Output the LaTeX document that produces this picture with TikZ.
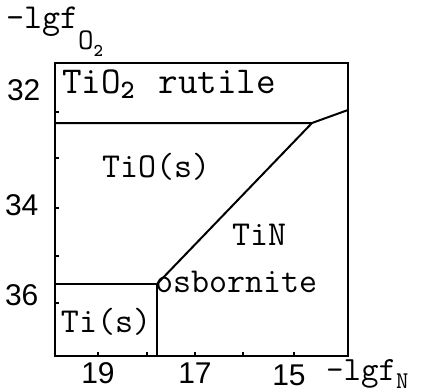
\documentclass[tikz,border=0pt]{standalone}
\usepackage{fontspec}
\setmainfont{Liberation Sans}
\usetikzlibrary{positioning}

\begin{document}
\begin{tikzpicture}[
    x=0.5pt, y=-0.5pt,
    every node/.style = {inner sep=0pt, outer sep=0pt},
    phase/.style      = {font=\ttfamily\fontsize{17.5}{19}\selectfont, anchor=base west},
    numlbl/.style     = {font=\fontsize{15}{17}\selectfont},
    frame/.style      = {line width=1.25pt, line join=miter},
    bnd/.style        = {line width=1pt},
    tickmark/.style   = {line width=1pt},
  ]
  \useasboundingbox (0,0) rectangle (434,391);

  %% Frame of the diagram
  \coordinate (tl) at (55,63);
  \coordinate (br) at (348,356);
  \draw[frame] (tl) rectangle (br);

  %% Ticks: -lgf O2 on the left, -lgf N at the bottom
  \foreach \ty in {112,158,208,256,303}
    \draw[tickmark] (55,\ty) -- ++(4,0);
  \foreach \tx in {98,147,195,243,294}
    \draw[tickmark] (\tx,356) -- ++(0,-4);

  %% Phase boundaries
  \coordinate (rutL)  at (55,123);
  \coordinate (kink)  at (312,123);
  \coordinate (rutR)  at (348,110);
  \coordinate (tp)    at (157,284);   % triple point
  \coordinate (tiL)   at (55,284);
  \coordinate (tiB)   at (157,356);

  \draw[bnd] (rutL) -- (kink) -- (rutR);
  \draw[bnd] (kink) -- (tp);
  \draw[bnd] (tiL) -- (tp) -- (tiB);

  %% Phase fields
  \node[phase, font=\ttfamily\fontsize{19}{21}\selectfont] (rutile) at (62,93)
    {TiO\textsubscript{\bfseries 2}\hspace{0.6em}rutile};
  \node[phase] (tio)  at (102,177) {TiO(s)};
  \node[phase] (tin)  at (232,245) {TiN};
  \node[phase] (osb)  at (155,292) {osbornite};
  \node[phase] (ti)   at (61,332)  {Ti(s)};

  %% Axis numbers
  \node[numlbl, anchor=base west] (y32) at (7,100) {32};
  \node[numlbl, anchor=base west] (y34) at (5,215) {34};
  \node[numlbl, anchor=base west] (y36) at (5,305) {36};
  \node[numlbl, anchor=base] (x19) at (98,383)  {19};
  \node[numlbl, anchor=base] (x17) at (195,383) {17};
  \node[numlbl, anchor=base] (x15) at (289,385) {15};

  %% Axis titles
  \node[phase, font=\ttfamily\fontsize{17.5}{19}\selectfont] (ytitle) at (6,28)
    {-lgf\raisebox{-0.6em}{\fontsize{15}{16}\selectfont O\raisebox{-0.25em}{\fontsize{9}{10}\bfseries 2}}};
  \node[phase, font=\ttfamily\fontsize{17}{19}\selectfont] (xtitle) at (326,380)
    {-lgf\raisebox{-0.25em}{\fontsize{12}{13}\selectfont N}};

\end{tikzpicture}
\end{document}
